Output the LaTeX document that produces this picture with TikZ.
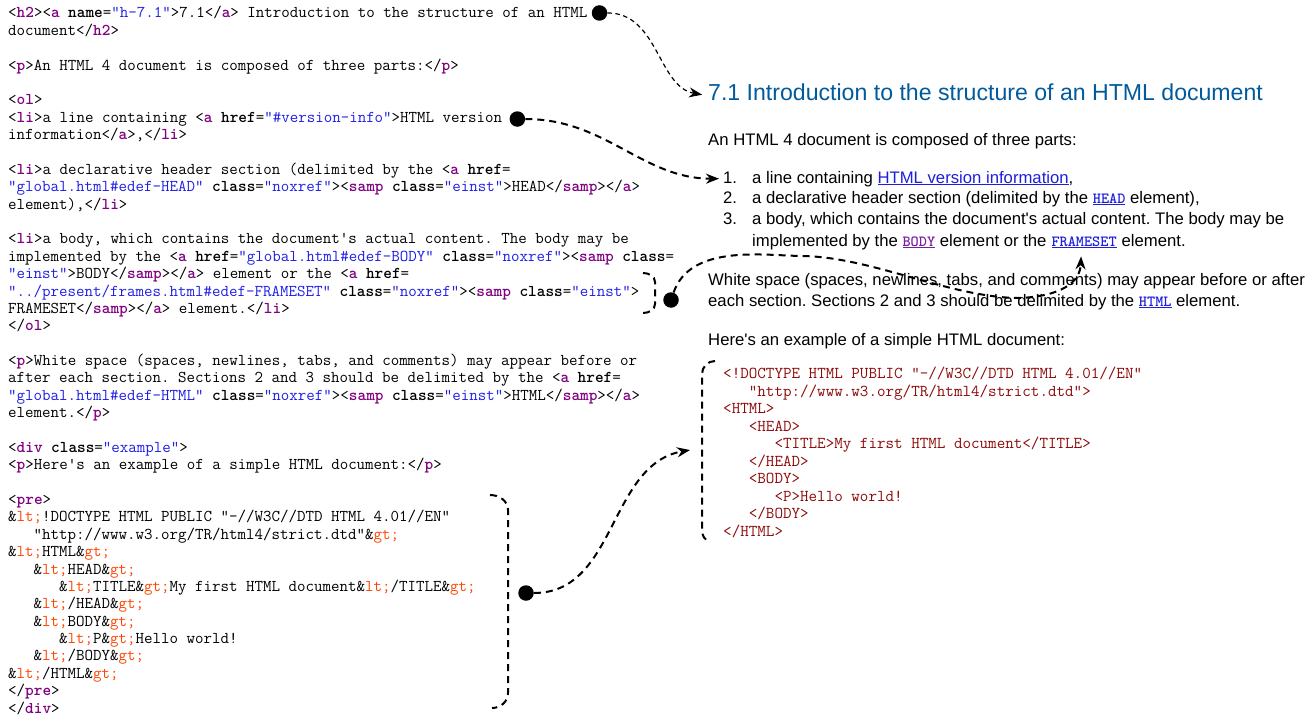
\documentclass[tikz,border=0pt]{standalone}
\usepackage{fontspec}
\setmainfont{Liberation Sans}
\usetikzlibrary{arrows.meta,positioning}

\definecolor{tagpurple}{RGB}{128,0,128}
\definecolor{valblue}{RGB}{30,30,230}
\definecolor{entorange}{RGB}{255,69,0}
\definecolor{headblue}{RGB}{0,90,156}
\definecolor{linkblue}{RGB}{30,30,220}
\definecolor{visited}{RGB}{120,30,160}
\definecolor{precode}{RGB}{140,10,10}

\newcommand\tagn[1]{\textcolor{tagpurple}{\bfseries #1}}
\newcommand\attr[1]{{\bfseries #1}}
\newcommand\aval[1]{\textcolor{valblue}{#1}}
\newcommand\ent[1]{\&\textcolor{entorange}{#1;}}
\newcommand\lnk[1]{\textcolor{linkblue}{\underline{#1}}}
\newcommand\ttlnk[2]{{\fontsize{15.5}{17}\selectfont\ttfamily\bfseries\textcolor{#1}{\underline{#2}}}}

\tikzset{
  src/.style={inner sep=0pt, anchor=base west, font=\fontsize{16.5}{17.4}\selectfont\ttfamily},
  excode/.style={src, font=\fontsize{16.6}{17.4}\selectfont\ttfamily, text=precode},
  txt/.style={inner sep=0pt, anchor=base west, font=\fontsize{16.7}{20}\selectfont},
  blob/.style={circle, fill=black, inner sep=0pt, minimum size=15.5pt},
  fine link/.style={line width=1.2pt, dash pattern=on 4.5pt off 3.5pt},
  heavy link/.style={line width=2pt, dash pattern=on 7pt off 5pt},
  arr/.style={-{Stealth[length=13pt,width=10pt]}}
}

\begin{document}
\frenchspacing
\begin{tikzpicture}[x=1pt, y=-1pt]
\useasboundingbox (0,0) rectangle (1316,717);

% the markup, one line per node
\foreach \k/\txt in {
 0/{<\tagn{h2}><\tagn{a} \attr{name}=\aval{"h-7.1"}>7.1</\tagn{a}> Introduction to the structure of an HTML},
 1/{document</\tagn{h2}>},
 3/{<\tagn{p}>An HTML 4 document is composed of three parts:</\tagn{p}>},
 5/{<\tagn{ol}>},
 6/{<\tagn{li}>a line containing <\tagn{a} \attr{href}=\aval{"\#version-info"}>HTML version},
 7/{information</\tagn{a}>,</\tagn{li}>},
 9/{<\tagn{li}>a declarative header section (delimited by the <\tagn{a} \attr{href}=},
 10/{\aval{"global.html\#edef-HEAD"} \attr{class}=\aval{"noxref"}><\tagn{samp} \attr{class}=\aval{"einst"}>HEAD</\tagn{samp}></\tagn{a}>},
 11/{element),</\tagn{li}>},
 13/{<\tagn{li}>a body, which contains the document\textquotesingle s actual content. The body may be},
 14/{implemented by the <\tagn{a} \attr{href}=\aval{"global.html\#edef-BODY"} \attr{class}=\aval{"noxref"}><\tagn{samp} \attr{class}=},
 15/{\aval{"einst"}>BODY</\tagn{samp}></\tagn{a}> element or the <\tagn{a} \attr{href}=},
 16/{\aval{"../present/frames.html\#edef-FRAMESET"} \attr{class}=\aval{"noxref"}><\tagn{samp} \attr{class}=\aval{"einst"}>},
 17/{FRAMESET</\tagn{samp}></\tagn{a}> element.</\tagn{li}>},
 18/{</\tagn{ol}>},
 20/{<\tagn{p}>White space (spaces, newlines, tabs, and comments) may appear before or},
 21/{after each section. Sections 2 and 3 should be delimited by the <\tagn{a} \attr{href}=},
 22/{\aval{"global.html\#edef-HTML"} \attr{class}=\aval{"noxref"}><\tagn{samp} \attr{class}=\aval{"einst"}>HTML</\tagn{samp}></\tagn{a}>},
 23/{element.</\tagn{p}>},
 25/{<\tagn{div} \attr{class}=\aval{"example"}>},
 26/{<\tagn{p}>Here\textquotesingle s an example of a simple HTML document:</\tagn{p}>},
 28/{<\tagn{pre}>},
 29/{\ent{lt}!DOCTYPE HTML PUBLIC "-//W3C//DTD HTML 4.01//EN"},
 30/{\phantom{xxx}"http://www.w3.org/TR/html4/strict.dtd"\ent{gt}},
 31/{\ent{lt}HTML\ent{gt}},
 32/{\phantom{xxx}\ent{lt}HEAD\ent{gt}},
 33/{\phantom{xxxxxx}\ent{lt}TITLE\ent{gt}My first HTML document\ent{lt}/TITLE\ent{gt}},
 34/{\phantom{xxx}\ent{lt}/HEAD\ent{gt}},
 35/{\phantom{xxx}\ent{lt}BODY\ent{gt}},
 36/{\phantom{xxxxxx}\ent{lt}P\ent{gt}Hello world!},
 37/{\phantom{xxx}\ent{lt}/BODY\ent{gt}},
 38/{\ent{lt}/HTML\ent{gt}},
 39/{</\tagn{pre}>},
 40/{</\tagn{div}>}}
  \node[src] (c\k) at (8,18+17.375*\k) {\txt};

% the rendered page
\node[txt, font=\fontsize{23.1}{26}\selectfont, text=headblue] (h71) at (708,100) {7.1 Introduction to the structure of an HTML document};
\node[txt] (p1) at (708,145) {An HTML 4 document is composed of three parts:};
\node[txt] (it1) at (723,183) {\makebox[29pt][l]{1.}a line containing \lnk{HTML version information},};
\node[txt] (it2) at (723,203) {\makebox[29pt][l]{2.}a declarative header section (delimited by the \ttlnk{linkblue}{HEAD} element),};
\node[txt] (it3) at (723,224) {\makebox[29pt][l]{3.}a body, which contains the document\textquotesingle s actual content. The body may be};
\node[txt] (it3b) at (752,246) {implemented by the \ttlnk{visited}{BODY} element or the};
\node[txt, right=4.6pt of it3b.base east, anchor=base west] (fs) {\ttlnk{linkblue}{FRAMESET}};
\node[txt, right=4.6pt of fs.base east, anchor=base west] (fsel) {element.};
\node[txt] (p2a) at (708,285) {White space (spaces, newlines, tabs, and comments) may appear before or after};
\node[txt] (p2b) at (708,306) {each section. Sections 2 and 3 should be delimited by the \ttlnk{linkblue}{HTML} element.};
\node[txt] (p3) at (708,345) {Here\textquotesingle s an example of a simple HTML document:};

\foreach \k/\txt in {
 0/{<!DOCTYPE HTML PUBLIC "-//W3C//DTD HTML 4.01//EN"},
 1/{\phantom{xxx}"http://www.w3.org/TR/html4/strict.dtd">},
 2/{<HTML>},
 3/{\phantom{xxx}<HEAD>},
 4/{\phantom{xxxxxx}<TITLE>My first HTML document</TITLE>},
 5/{\phantom{xxx}</HEAD>},
 6/{\phantom{xxx}<BODY>},
 7/{\phantom{xxxxxx}<P>Hello world!},
 8/{\phantom{xxx}</BODY>},
 9/{</HTML>}}
  \node[excode] (e\k) at (723,378.5+17.55*\k) {\txt};

% dots and brackets
\node[blob, right=4pt of c0] (d1) {};
\node[blob, right=7pt of c6] (d2) {};
\node[blob] (d3) at (671,300) {};
\node[blob] (d4) at (526,593) {};
\coordinate (exin) at (690,450);

\draw[heavy link] (643,273) to[out=0,in=90] (655,282) -- (655,304) to[out=-90,in=0] (643,313);
\draw[heavy link] (490,495) to[out=0,in=90] (508,510) -- (508,693) to[out=-90,in=0] (492,708);
\draw[heavy link] (715,361) to[out=180,in=90] (702,374) -- (702,530) to[out=-90,in=180] (710,541);

% connectors
\draw[fine link, arr, shorten >=6pt] (d1) to[out=0,in=170] ([yshift=-4pt]h71.west);
\draw[heavy link, arr, shorten >=4pt] (d2) to[out=0,in=180] (it1.west);
\draw[heavy link, arr] (d3) .. controls (690,245) and (760,255) .. (800,256)
  .. controls (870,256) and (950,298) .. (1020,298)
  .. controls (1062,296) and (1080,282) .. ([xshift=-3pt,yshift=-8pt]fs.south);
\draw[heavy link, arr] (d4) to[out=0,in=190] (exin);
\end{tikzpicture}
\end{document}
